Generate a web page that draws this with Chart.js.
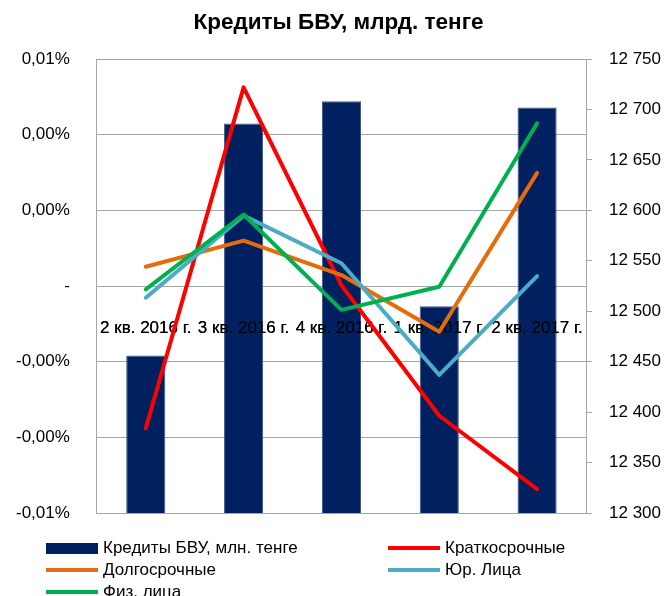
<!DOCTYPE html>
<html>
<head>
<meta charset="utf-8">
<script src="https://cdn.jsdelivr.net/npm/chart.js@4.4.1/dist/chart.umd.min.js"></script>
<style>
  html, body { margin: 0; padding: 0; background: #fff; }
  #wrap { position: relative; width: 670px; height: 596px; overflow: hidden; }
  #legend {
    position: absolute; left: 46px; top: 537px;
    display: grid; grid-template-columns: 342px auto; grid-auto-rows: 22px;
    font-family: "Liberation Sans", Arial, sans-serif; font-size: 17px; color: #000;
  }
  .item { display: flex; align-items: center; white-space: nowrap; }
  .sw { display: inline-block; width: 52px; margin-right: 5px; }
</style>
</head>
<body>
<div id="wrap">
  <canvas id="chart" width="670" height="596"></canvas>
  <div id="legend"></div>
</div>
<script>
const quarters = ["2 кв. 2016 г.", "3 кв. 2016 г.", "4 кв. 2016 г.", "1 кв. 2017 г.", "2 кв. 2017 г."];

// bars, right axis
const loans = [12456, 12686, 12708, 12505, 12702];

// lines, left axis (percent)
const shortTerm = [-0.00376, 0.00525, 0.00002, -0.00343, -0.00537];
const longTerm = [0.00051, 0.0012, 0.00029, -0.00121, 0.00299];
const legalEntities = [-0.00031, 0.00186, 0.0006, -0.00235, 0.00026];
const individuals = [-0.00009, 0.00189, -0.00063, -0.00002, 0.0043];

// left axis labels, bottom to top
const leftTickLabels = ["-0,01%", "-0,00%", "-0,00%", "-", "0,00%", "0,00%", "0,01%"];

const FONT = "'Liberation Sans', Arial, sans-serif";
const GRID = "#a6a6a6";

function line(label, data, color, order) {
  return {
    type: "line",
    label,
    data,
    yAxisID: "y",
    borderColor: color,
    backgroundColor: color,
    borderWidth: 4,
    pointRadius: 0,
    tension: 0,
    borderCapStyle: "round",
    borderJoinStyle: "round",
    order
  };
}

// chart.js counts tick padding twice for vertical axes
const trimPad = s => { s.width -= s.options.ticks.padding; };

// category labels sit over the bars but under the lines
const labelsOverBars = {
  id: "labelsOverBars",
  afterDatasetDraw(chart, args) {
    if (args.index !== 0) return;
    const x = chart.scales.x;
    if (x && x.drawLabels) x.drawLabels(chart.chartArea);
  }
};

const chart = new Chart(document.getElementById("chart"), {
  type: "bar",
  data: {
    labels: quarters,
    datasets: [
      {
        label: "Кредиты БВУ, млн. тенге",
        data: loans,
        yAxisID: "y2",
        backgroundColor: "#002060",
        borderColor: "#3d5688",
        borderWidth: 1,
        barPercentage: 0.4,
        categoryPercentage: 1,
        order: 10
      },
      line("Краткосрочные", shortTerm, "#ff0000", 4),
      line("Долгосрочные", longTerm, "#e46c0a", 3),
      line("Юр. Лица", legalEntities, "#4bacc6", 2),
      line("Физ. лица", individuals, "#00b050", 1)
    ]
  },
  plugins: [labelsOverBars],
  options: {
    responsive: false,
    animation: false,
    layout: { padding: { left: 16, right: 9, top: 0, bottom: 83 } },
    plugins: {
      legend: { display: false },
      tooltip: { enabled: false },
      title: {
        display: true,
        text: "Кредиты БВУ, млрд. тенге",
        color: "#000",
        font: { family: FONT, size: 22.5, weight: "bold" },
        padding: { top: 9, bottom: 23 }
      }
    },
    scales: {
      x: {
        position: { y: 0 },
        grid: { display: false },
        border: { display: false },
        ticks: {
          autoSkip: false, maxRotation: 0, minRotation: 0,
          padding: 24, color: "#000",
          font: { family: FONT, size: 17 }
        },
        afterFit: s => { s.height = 0; s.paddingLeft = 0; s.paddingRight = 0; }
      },
      y: {
        position: "left",
        min: -0.006, max: 0.006,
        grid: { color: GRID, lineWidth: 1, drawTicks: false },
        border: { color: GRID },
        ticks: {
          stepSize: 0.002, padding: 27, color: "#000",
          font: { family: FONT, size: 17 },
          callback: (v, i) => leftTickLabels[i]
        },
        afterFit: trimPad
      },
      y2: {
        position: "right",
        min: 12300, max: 12750,
        grid: { drawOnChartArea: false, color: GRID, tickLength: 6 },
        border: { color: GRID },
        ticks: {
          stepSize: 50, padding: 17, color: "#000",
          font: { family: FONT, size: 17 },
          callback: v => String(v).replace(/\B(?=(\d{3})+(?!\d))/g, " ")
        },
        afterFit: trimPad
      }
    }
  }
});

// legend in two columns, like the original
const legendEl = document.getElementById("legend");
const legendOrder = [0, 1, 2, 3, 4];
legendOrder.forEach(i => {
  const ds = chart.data.datasets[i];
  const item = document.createElement("div");
  item.className = "item";
  const sw = document.createElement("span");
  sw.className = "sw";
  sw.style.background = ds.type === "line" ? ds.borderColor : ds.backgroundColor;
  sw.style.height = ds.type === "line" ? "4px" : "11px";
  item.appendChild(sw);
  item.appendChild(document.createTextNode(ds.label));
  legendEl.appendChild(item);
});
</script>
</body>
</html>
